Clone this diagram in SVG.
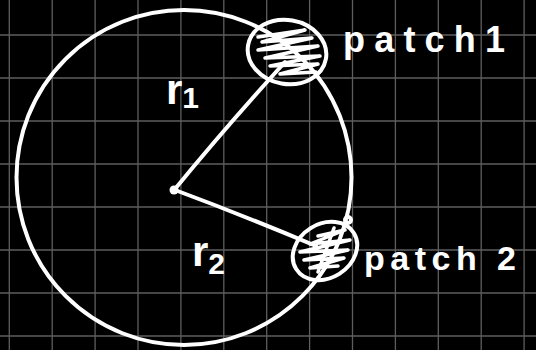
<svg xmlns="http://www.w3.org/2000/svg" width="536" height="350" viewBox="0 0 536 350">
<style>
.grid{stroke:#5e5e5e;stroke-width:1.3}
.ink{fill:none;stroke:#fff;stroke-width:4;stroke-linecap:round;stroke-linejoin:round}
.scrib{fill:none;stroke:#fff;stroke-width:3.5;stroke-linecap:round;stroke-linejoin:round}
.lbl{fill:#fff;font-family:"Liberation Sans",Arial,sans-serif;font-weight:bold}
</style>
<rect width="536" height="350" fill="#000"/>
<g id="grid">
<path class="grid" d="M9.3 0V350M52.2 0V350M95.1 0V350M138 0V350M180.9 0V350M223.8 0V350M266.7 0V350M309.6 0V350M352.5 0V350M395.4 0V350M438.3 0V350M481.2 0V350M524.1 0V350M0 35H536M0 78H536M0 121H536M0 164H536M0 207H536M0 250H536M0 293H536M0 336H536"/>
</g>
<g id="big-circle">
<circle class="ink" cx="184" cy="177.5" r="167.5"/>
</g>
<g id="connectors">
<path id="r1-line" class="ink" d="M175 189 Q225 128 285 62"/>
<path id="r2-line" class="ink" d="M175 190 Q245 216 316 246"/>
</g>
<g id="center">
<circle cx="174" cy="190" r="4.5" fill="#fff"/>
</g>
<g id="patch1">
<ellipse class="ink" cx="287" cy="52" rx="39.5" ry="32" transform="rotate(10 287 52)"/>
<path class="scrib" d="M258 37 L305 30 L262 42 L312 38 L258 50 L318 46 L265 58 L320 56 L270 66 L318 64 L280 74 L316 72"/>
</g>
<g id="patch2">
<ellipse class="ink" cx="325" cy="251" rx="34" ry="27" transform="rotate(-32 325 251)"/>
<circle class="ink" cx="348" cy="220" r="3"/>
<path class="scrib" d="M318 236 L345 230 L310 244 L350 240 L300 252 L348 250 L304 260 L344 258 L310 268 L338 266"/>
<path class="scrib" d="M334 228 L318 272"/>
</g>
<g id="labels">
<text class="lbl" x="343" y="52" font-size="36" textLength="162" lengthAdjust="spacing">patch1</text>
<text class="lbl" x="364" y="270" font-size="34" textLength="152" lengthAdjust="spacing">patch 2</text>
<text class="lbl" x="166" y="104" font-size="42">r<tspan font-size="30" dy="4">1</tspan></text>
<text class="lbl" x="192" y="266" font-size="42">r<tspan font-size="30" dy="8">2</tspan></text>
</g>
</svg>
